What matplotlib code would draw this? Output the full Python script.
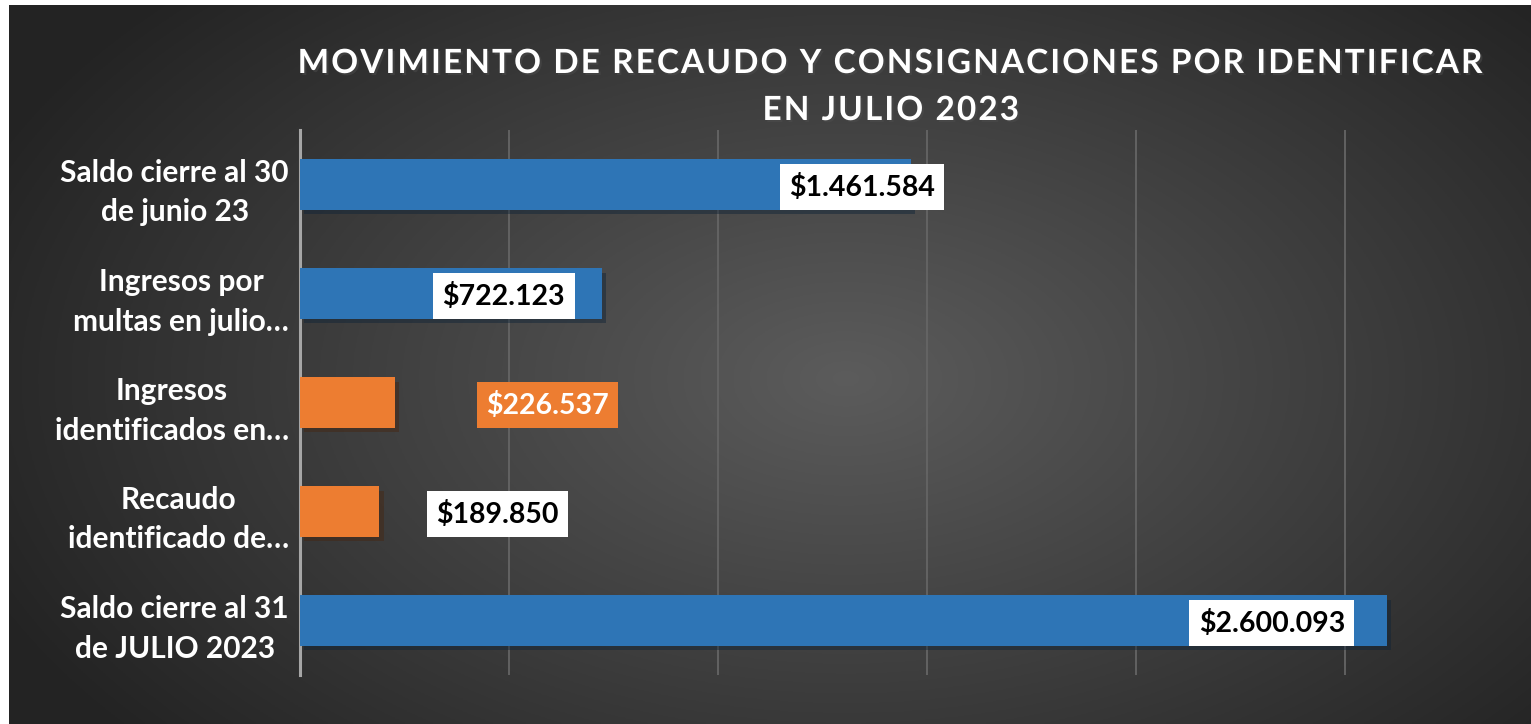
import numpy as np
import matplotlib
matplotlib.use("Agg")
import matplotlib.pyplot as plt
import matplotlib.patheffects as pe

plt.rcParams['font.family'] = ['Lato', 'DejaVu Sans']
plt.rcParams['font.weight'] = 'bold'

# data
categories = ["Saldo cierre al 30\nde junio 23",
              "Ingresos por\nmultas en julio…",
              "Ingresos\nidentificados en…",
              "Recaudo\nidentificado de…",
              "Saldo cierre al 31\nde JULIO 2023"]
values = [1461584, 722123, 226537, 189850, 2600093]
value_labels = ["$1.461.584", "$722.123", "$226.537", "$189.850", "$2.600.093"]
series_kind = ["saldo", "saldo", "mov", "mov", "saldo"]
title_lines = ["MOVIMIENTO DE RECAUDO Y CONSIGNACIONES POR IDENTIFICAR",
               "EN JULIO 2023"]

# label placement (pixels from bar end) and styles
label_dx = [-49, -98, 153, 118, -115]
bar_colors = {"saldo": "#2E75B6", "mov": "#ED7D31"}
label_face = ["white", "white", "#ED7D31", "white", "white"]
label_text = ["black", "black", "white", "black", "black"]

W, H = 1531, 724
fig = plt.figure(figsize=(W / 100, H / 100), dpi=100, facecolor="white")

# dark radial background
bg = fig.add_axes([9 / W, 0, 1 - 9 / W, 1 - 5 / H])
yy, xx = np.mgrid[0:1:300j, 0:1:600j]
r = np.sqrt(((xx - 0.55) / 0.75) ** 2 + ((yy - 0.52) / 0.95) ** 2)
shade = np.clip(0.36 - 0.27 * r, 0.14, 0.36)
bg.imshow(np.dstack([shade] * 3), aspect="auto", extent=[0, 1, 0, 1])
bg.axis("off")

ax = fig.add_axes([300 / W, 1 - 675 / H, 1 - 300 / W, (675 - 130) / H])
ax.set_facecolor("none")
ypos = np.arange(len(categories))
bars = ax.barh(ypos, values, height=0.46,
               color=[bar_colors[k] for k in series_kind], zorder=3)
for b in bars:
    b.set_path_effects([pe.SimplePatchShadow(offset=(3, -3), alpha=0.45),
                        pe.Normal()])

ax.set_xlim(0, 2945000)
ax.set_ylim(len(categories) - 0.5, -0.5)
ax.set_xticks([500000, 1000000, 1500000, 2000000, 2500000])
ax.xaxis.grid(True, color="#656565", linewidth=1.3, zorder=0)
ax.tick_params(axis="x", length=0, labelbottom=False)
ax.tick_params(axis="y", length=0, pad=8)
for s in ["top", "right", "bottom"]:
    ax.spines[s].set_visible(False)
ax.spines["left"].set_color("#a6a6a6")
ax.spines["left"].set_linewidth(2.2)

ax.set_yticks(ypos)
ax.set_yticklabels(categories, fontsize=21.5, color="white", fontweight="bold")
for t in ax.get_yticklabels():
    t.set_multialignment("center")
    t.set_linespacing(1.5)

for i, v in enumerate(values):
    ax.annotate(value_labels[i], xy=(v, i), xytext=(label_dx[i] * 0.72, -2),
                textcoords="offset points", ha="center", va="center",
                fontsize=20.5, fontweight="bold", color=label_text[i], zorder=5,
                bbox=dict(boxstyle="square,pad=0.33", fc=label_face[i], ec="none"))

# spaced-out title letters
spaced = ["\u200a".join(line) for line in title_lines]
fig.text(891 / W, 1 - 87 / H, "\n".join(spaced),
         ha="center", va="center", fontsize=24, fontweight="bold", color="white",
         linespacing=1.75,
         path_effects=[pe.withSimplePatchShadow(offset=(1.5, -1.5), alpha=0.5)])

fig.savefig("out.png", dpi=100, facecolor="white")
